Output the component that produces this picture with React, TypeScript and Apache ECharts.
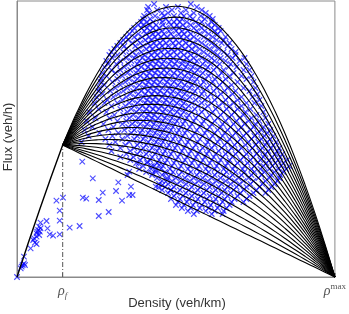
import React, { useEffect, useRef } from "react";
import * as echarts from "echarts";

// ---- axis / model constants (data units) ----
const RHO_F = 46; // critical density rho_f
const Q_F = 132; // flux at rho_f
const RHO_MAX = 320; // jam density rho^max
const FLUX_MAX = 276; // top of the plotting frame

const xTicks = [46, 320];
const xTickLabels = ["{r|ρ}{sub|f}", "{r|ρ}{sup|max}"];

// free-flow branch (origin to rho_f)
const freeFlowDensity = [0, 23, 46];
const freeFlowFlux = [0, 68, 132];

// density grid for congested curves
const densityGrid = [46, 50, 55, 60, 70, 80, 90, 100, 110, 120, 130, 140, 150, 160, 170, 180, 190, 200, 210, 220, 230, 240, 250, 260, 270, 280, 290, 300, 310, 320];
// amplitude of each congested curve of the family
const curveLevels = [0, 0.155, 0.313, 0.475, 0.64, 0.808, 0.979, 1.153, 1.331, 1.512, 1.696, 1.884, 2.075, 2.269, 2.466, 2.667, 2.871, 3.078, 3.288, 3.501, 3.718, 3.938];

// measurements: rows of [flux, densities...]
const congestedRows: [number, number[]][] = [
  [273, [138, 175]],
  [270, [132, 150, 162, 181]],
  [267, [131, 141, 156, 170, 186]],
  [264, [133, 146, 152, 165, 178, 190]],
  [261, [128, 139, 148, 158, 168, 174, 185, 194]],
  [258, [127, 134, 144, 150, 161, 166, 177, 189, 197]],
  [255, [125, 131, 137, 146, 153, 158, 164, 171, 180, 186, 196]],
  [252, [122, 127, 133, 140, 147, 155, 161, 167, 175, 183, 192, 199]],
  [249, [118, 125, 131, 137, 143, 150, 158, 163, 170, 178, 186, 196, 203]],
  [246, [116, 128, 134, 140, 146, 153, 160, 166, 172, 181, 189, 199, 205]],
  [243, [113, 122, 130, 137, 142, 148, 155, 163, 168, 175, 184, 193, 202]],
  [240, [110, 118, 126, 133, 139, 145, 151, 158, 165, 171, 178, 188, 197, 210]],
  [237, [107, 112, 121, 129, 135, 141, 147, 154, 160, 167, 174, 182, 192, 201, 208]],
  [234, [104, 116, 124, 132, 138, 144, 150, 157, 163, 170, 177, 186, 196, 206, 214]],
  [231, [101, 108, 119, 127, 134, 140, 146, 152, 159, 166, 173, 180, 190, 199, 212]],
  [228, [98, 110, 122, 130, 136, 143, 149, 156, 162, 169, 176, 184, 194, 203, 216]],
  [225, [95, 107, 116, 125, 133, 139, 145, 152, 158, 165, 172, 179, 188, 198, 208, 220]],
  [222, [93, 101, 113, 120, 128, 135, 141, 148, 154, 161, 168, 175, 183, 192, 202, 212, 220]],
  [219, [96, 110, 118, 126, 132, 138, 144, 151, 157, 164, 171, 178, 186, 196, 205, 217, 229]],
  [216, [90, 104, 115, 123, 130, 136, 142, 148, 155, 161, 167, 174, 181, 190, 199, 210, 224]],
  [213, [92, 100, 112, 121, 128, 134, 140, 146, 153, 159, 166, 172, 179, 187, 195, 204, 215, 231]],
  [210, [88, 108, 118, 125, 132, 138, 144, 150, 157, 163, 170, 177, 184, 192, 201, 213, 221]],
  [207, [95, 104, 114, 122, 129, 135, 141, 148, 154, 161, 168, 175, 182, 190, 198, 208, 228, 234]],
  [204, [86, 99, 111, 120, 127, 133, 139, 145, 151, 158, 165, 172, 179, 187, 195, 206, 218]],
  [201, [90, 106, 116, 124, 131, 137, 143, 149, 156, 162, 169, 176, 184, 193, 203, 214, 226, 236]],
  [198, [85, 101, 113, 121, 128, 134, 140, 147, 153, 160, 167, 174, 181, 189, 199, 210, 231]],
  [195, [84, 96, 109, 118, 126, 132, 138, 144, 151, 158, 165, 172, 179, 188, 197, 207, 222, 238]],
  [192, [88, 104, 115, 123, 130, 136, 142, 149, 155, 162, 169, 176, 185, 194, 204, 216]],
  [189, [83, 99, 111, 120, 128, 134, 140, 146, 153, 160, 167, 174, 182, 191, 201, 212, 228, 240]],
  [186, [82, 94, 107, 117, 125, 132, 138, 144, 151, 157, 164, 171, 179, 188, 198, 209, 220, 234]],
  [183, [86, 102, 114, 122, 129, 136, 142, 148, 155, 162, 169, 177, 186, 195, 205, 217, 242]],
  [180, [80, 97, 110, 119, 127, 133, 139, 146, 152, 159, 166, 174, 183, 192, 202, 213, 226, 237]],
  [177, [91, 106, 116, 124, 131, 137, 143, 150, 157, 164, 171, 180, 189, 199, 210, 222, 244]],
  [174, [78, 88, 101, 113, 121, 129, 135, 141, 148, 154, 161, 168, 176, 186, 196, 207, 218, 231, 239]],
  [171, [95, 109, 118, 126, 133, 139, 145, 152, 159, 166, 173, 182, 192, 203, 214, 226, 246]],
  [168, [82, 104, 115, 123, 130, 137, 143, 149, 156, 163, 170, 179, 189, 200, 211, 222, 235]],
  [165, [73, 90, 111, 120, 128, 134, 140, 147, 154, 161, 168, 176, 186, 197, 208, 219, 230, 248]],
  [162, [98, 107, 117, 125, 132, 138, 145, 151, 158, 165, 173, 183, 194, 205, 216, 228, 241]],
  [159, [79, 93, 113, 122, 130, 136, 142, 149, 156, 163, 171, 180, 191, 202, 213, 224, 236, 250]],
  [156, [70, 101, 110, 119, 127, 134, 140, 147, 154, 161, 169, 178, 188, 199, 210, 221, 233, 244]],
  [153, [87, 106, 116, 124, 131, 138, 145, 152, 159, 167, 176, 186, 196, 207, 218, 229, 240, 253]],
  [150, [76, 97, 112, 121, 129, 136, 143, 150, 157, 165, 174, 184, 194, 205, 215, 226, 238, 248]],
  [147, [68, 92, 108, 118, 126, 134, 141, 148, 155, 163, 171, 181, 191, 202, 212, 223, 235, 246, 255]],
  [144, [83, 102, 115, 124, 132, 139, 146, 153, 161, 169, 179, 189, 199, 209, 220, 231, 242, 252]],
  [141, [72, 96, 111, 121, 129, 137, 144, 151, 159, 167, 177, 187, 197, 207, 217, 228, 239, 249, 258]],
  [138, [89, 106, 118, 127, 135, 142, 149, 157, 165, 174, 184, 194, 204, 214, 225, 236, 246, 255]],
  [135, [65, 99, 113, 124, 132, 140, 147, 155, 163, 172, 182, 192, 202, 212, 222, 233, 243, 252, 261]],
  [132, [93, 109, 121, 130, 138, 145, 153, 161, 170, 180, 190, 199, 209, 219, 230, 240, 250, 258]],
  [129, [104, 118, 127, 136, 143, 151, 159, 168, 177, 187, 196, 206, 216, 226, 237, 247, 256, 264]],
  [126, [95, 114, 124, 133, 141, 149, 157, 166, 175, 184, 193, 203, 213, 223, 234, 244, 253, 262]],
  [123, [110, 121, 130, 139, 147, 155, 164, 173, 182, 191, 200, 210, 220, 231, 241, 250, 260, 267]],
  [120, [104, 117, 127, 136, 145, 153, 162, 171, 180, 189, 198, 207, 217, 228, 238, 248, 257, 265]],
  [117, [114, 124, 134, 143, 151, 160, 169, 178, 187, 196, 205, 214, 225, 235, 245, 254, 263, 272]],
  [114, [120, 131, 141, 149, 158, 167, 176, 185, 194, 203, 212, 222, 232, 242, 251, 260, 268]],
  [111, [127, 138, 147, 156, 165, 174, 183, 192, 201, 210, 219, 229, 239, 248, 257, 266, 274]],
  [108, [123, 135, 145, 154, 163, 172, 181, 190, 199, 208, 217, 227, 236, 245, 254, 263, 271]],
  [105, [130, 140, 149, 157, 166, 175, 184, 193, 202, 211, 220, 229, 239, 249, 259, 268]],
  [102, [136, 146, 155, 163, 172, 181, 190, 199, 208, 217, 226, 236, 246, 256, 265]],
  [99, [141, 151, 160, 169, 178, 187, 196, 205, 214, 223, 233, 243, 254, 264]],
  [96, [146, 156, 165, 174, 183, 192, 201, 210, 219, 228, 238, 250, 262]],
  [93, [143, 152, 161, 170, 179, 188, 197, 206, 215, 224, 235, 247, 259]],
  [90, [149, 158, 167, 176, 185, 194, 203, 212, 221, 231, 244, 256]],
  [87, [146, 155, 164, 173, 182, 191, 200, 209, 218, 228, 241, 253]],
  [84, [152, 161, 170, 179, 188, 197, 206, 215, 225, 238, 250]],
  [81, [158, 167, 176, 185, 194, 203, 212, 222, 234]],
  [78, [155, 164, 173, 182, 191, 200, 209, 219, 231]],
  [75, [162, 171, 180, 189, 198, 207, 216, 228]],
  [72, [160, 168, 177, 186, 195, 204, 214]],
  [69, [166, 175, 184, 193, 202, 211]],
  [66, [172, 181, 190, 199, 208]],
  [63, [178, 196, 207]],
];

// sparse measurements (density, flux)
const sparseDensity = [0, 4.7, 5.7, 7, 8, 3.7, 7, 13.7, 16.3, 18, 19.7, 17.3, 19.7, 21.3, 20.3, 22.3, 23, 23.7, 22.3, 19.7, 23.7, 29.7, 30.7, 33, 36.3, 39.7, 43, 43, 43, 46.3, 53, 63, 65.7, 66.3, 69.7, 76.3, 82.3, 82.3, 86.3, 92.3, 99.7, 102, 105.7, 111.3, 113, 113, 116.3, 114.7, 122.3, 131.3, 136.3, 139.7, 135.7, 143, 139.7, 146.3, 142.3, 151.3, 154.7, 149.7];
const sparseFlux = [0, 10.3, 12, 13.7, 12, 8.7, 20.3, 28.7, 37, 34.3, 33, 38.7, 43.7, 47, 45.3, 42, 45.3, 48.7, 50.3, 40.3, 54.3, 56, 48.7, 42.7, 41.3, 76.3, 66.3, 56.3, 42.7, 79.3, 49.3, 51, 115.3, 79.3, 78.3, 98.7, 77, 61, 84.3, 65, 86, 94.7, 76.3, 102, 105.3, 82, 82, 90.3, 113.7, 115.3, 103.7, 107, 111, 112, 90.3, 92, 89.7, 97, 87, 103.7];

function congestedFlux(d: number, a: number): number {
  const lin = (Q_F * (RHO_MAX - d)) / (RHO_MAX - RHO_F);
  const bump = (a * FLUX_MAX * (d - RHO_F) * (RHO_MAX - d)) / (RHO_MAX * RHO_MAX);
  return lin + bump;
}

export default function App() {
  const ref = useRef<HTMLDivElement>(null);
  useEffect(() => {
    if (!ref.current) return;
    const chart = echarts.init(ref.current, null, { renderer: "svg" });

    const scatterData: number[][] = [];
    congestedRows.forEach(([f, ds]) => ds.forEach((d) => scatterData.push([d, f])));
    sparseDensity.forEach((d, i) => scatterData.push([d, sparseFlux[i]]));

    const curveSeries = curveLevels.map((a) => ({
      type: "line",
      data: densityGrid.map((d) => [d, congestedFlux(d, a)]),
      smooth: true,
      showSymbol: false,
      silent: true,
      z: 3,
      lineStyle: { color: "#000", width: 1.1 },
    }));

    const frameGray = "#8a8a8a";
    chart.setOption({
      animation: false,
      grid: { left: 17, top: 1, width: 321, height: 276, show: true, borderColor: frameGray, borderWidth: 1 },
      xAxis: {
        type: "value",
        min: 0,
        max: RHO_MAX,
        splitLine: { show: false },
        axisLine: { show: true, lineStyle: { color: frameGray } },
        axisTick: { show: true, inside: true, length: 4, customValues: xTicks, lineStyle: { color: frameGray } },
        axisLabel: {
          show: true,
          customValues: xTicks,
          margin: 4,
          formatter: (v: number) => xTickLabels[xTicks.indexOf(v)] ?? "",
          rich: {
            r: { fontFamily: "Liberation Serif", fontStyle: "italic", fontSize: 14, color: "#555", lineHeight: 18 },
            sub: { fontFamily: "Liberation Serif", fontStyle: "italic", fontSize: 9, color: "#555", verticalAlign: "bottom", lineHeight: 18, padding: [6, 0, 0, 0] },
            sup: { fontFamily: "Liberation Serif", fontSize: 9, color: "#555", verticalAlign: "top", lineHeight: 18, padding: [0, 0, 6, 0] },
          },
        },
      },
      yAxis: {
        type: "value",
        min: 0,
        max: FLUX_MAX,
        splitLine: { show: false },
        axisLine: { show: true, lineStyle: { color: frameGray } },
        axisTick: { show: false },
        axisLabel: { show: false },
      },
      graphic: [
        {
          type: "text",
          x: 177,
          y: 302,
          style: { text: "Density (veh/km)", font: '13px "Liberation Sans", Arial, sans-serif', fill: "#333", align: "center", verticalAlign: "middle" },
        },
        {
          type: "text",
          x: 7,
          y: 137,
          rotation: Math.PI / 2,
          style: { text: "Flux (veh/h)", font: '13px "Liberation Sans", Arial, sans-serif', fill: "#333", align: "center", verticalAlign: "middle" },
        },
      ],
      series: [
        {
          type: "scatter",
          data: scatterData,
          symbol: "path://M0,0L10,10M10,0L0,10",
          symbolSize: 5.5,
          silent: true,
          z: 2,
          itemStyle: { color: "none", borderColor: "#0000ff", borderWidth: 1.1, opacity: 0.7 },
        },
        {
          type: "line",
          data: [
            [RHO_F, 0],
            [RHO_F, Q_F],
          ],
          showSymbol: false,
          silent: true,
          z: 3,
          lineStyle: { color: "#555", width: 1, type: [5, 2, 1, 2] },
        },
        {
          type: "line",
          data: freeFlowDensity.map((d, i) => [d, freeFlowFlux[i]]),
          smooth: true,
          showSymbol: false,
          silent: true,
          z: 3,
          lineStyle: { color: "#000", width: 1.4 },
        },
        ...curveSeries,
      ],
    });
    return () => chart.dispose();
  }, []);
  return <div ref={ref} style={{ position: "fixed", left: 0, top: 0, width: 349, height: 314 }} />;
}
